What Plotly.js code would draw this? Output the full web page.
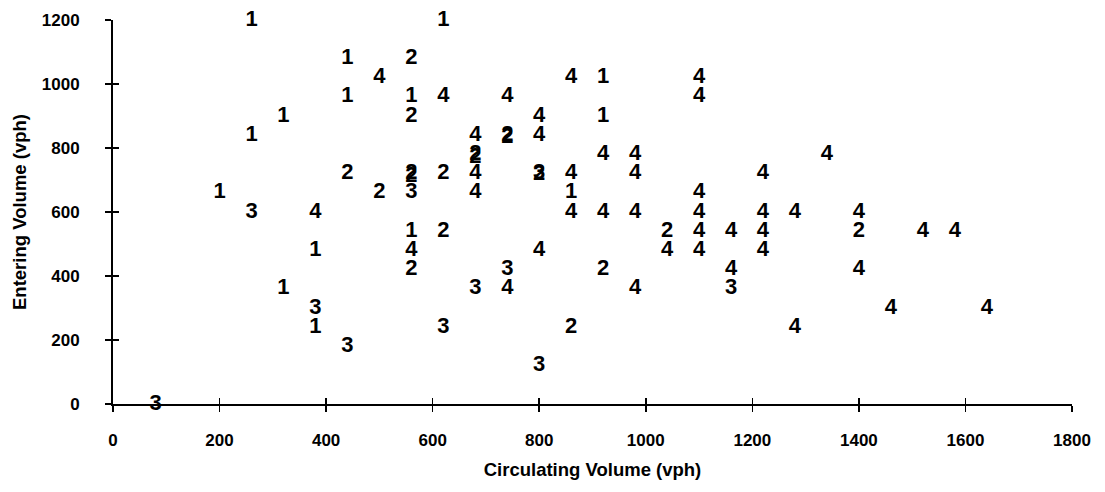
<!DOCTYPE html>
<html>
<head>
<meta charset="utf-8">
<script src="https://cdn.plot.ly/plotly-3.0.1.min.js"></script>
<style>html,body{margin:0;padding:0;background:#fff;}#chart{width:1105px;height:492px;}</style>
</head>
<body>
<div id="chart"></div>
<script>
// Category "1"
const cat1X = [260, 620, 440, 920, 440, 560, 320, 920, 260, 200, 860, 560, 380, 320, 380];
const cat1Y = [1200, 1200, 1080, 1020, 960, 960, 900, 900, 840, 660, 660, 540, 480, 360, 240];
// Category "2"
const cat2X = [560, 560, 440, 500, 740, 740, 680, 680, 560, 560, 620, 800, 620, 1040, 1400, 560, 920, 860];
const cat2Y = [1080, 900, 720, 660, 840, 832, 780, 770, 720, 712, 720, 716, 540, 540, 540, 420, 420, 240];
// Category "3"
const cat3X = [260, 380, 440, 80, 560, 800, 740, 680, 620, 800, 1160];
const cat3Y = [600, 300, 180, 0, 660, 720, 420, 360, 240, 120, 360];
// Category "4"
const cat4X = [500, 860, 1100, 620, 740, 1100, 800, 680, 800, 920, 980, 1340, 680, 860, 980, 1220, 680, 1100,
               380, 860, 920, 980, 1100, 1220, 1280, 1400, 1100, 1160, 1220, 1520, 1580, 560, 800, 1040, 1100,
               1220, 1160, 1400, 740, 980, 1460, 1640, 1280];
const cat4Y = [1020, 1020, 1020, 960, 960, 960, 900, 840, 840, 780, 780, 780, 720, 720, 720, 720, 660, 660,
               600, 600, 600, 600, 600, 600, 600, 600, 540, 540, 540, 540, 540, 480, 480, 480, 480,
               480, 420, 420, 360, 360, 300, 300, 240];
const categoryLabels = ["1", "2", "3", "4"];
const xTicks = [0, 200, 400, 600, 800, 1000, 1200, 1400, 1600, 1800];
const yTicks = [0, 200, 400, 600, 800, 1000, 1200];

const seriesX = [cat1X, cat2X, cat3X, cat4X];
const seriesY = [cat1Y, cat2Y, cat3Y, cat4Y];
const glyphFont = {family: "Liberation Sans, Arial, sans-serif", size: 22, color: "#000", weight: "bold"};

const traces = categoryLabels.map((lab, i) => ({
  type: "scatter", mode: "text",
  x: seriesX[i], y: seriesY[i],
  text: seriesX[i].map(() => lab),
  textposition: "middle center",
  textfont: glyphFont,
  cliponaxis: false,
  showlegend: false, hoverinfo: "x+y"
}));
// empty trace to carry the overlay axes (inner half of crossing ticks)
traces.push({type: "scatter", mode: "none", x: [], y: [], xaxis: "x2", yaxis: "y2", showlegend: false});

const tickFont = {family: "Liberation Sans, Arial, sans-serif", size: 17, color: "#000", weight: "bold"};
const titleFont = {family: "Liberation Sans, Arial, sans-serif", size: 18.5, color: "#000", weight: "bold"};

const layout = {
  width: 1105, height: 492,
  margin: {l: 113, r: 33, t: 20, b: 88},
  paper_bgcolor: "#fff", plot_bgcolor: "#fff",
  showlegend: false,
  xaxis: {
    range: [0, 1800], tickvals: xTicks, ticktext: xTicks.map(String),
    showgrid: false, zeroline: false,
    showline: true, linecolor: "#000", linewidth: 2,
    ticks: "outside", ticklen: 6, tickwidth: 1.5, tickcolor: "#000",
    ticklabelstandoff: 14,
    tickfont: tickFont,
    title: {text: "Circulating Volume (vph)", font: titleFont, standoff: 14}
  },
  yaxis: {
    range: [0, 1200], tickvals: yTicks, ticktext: yTicks.map(String),
    showgrid: false, zeroline: false,
    showline: true, linecolor: "#000", linewidth: 2,
    ticks: "outside", ticklen: 6, tickwidth: 1.5, tickcolor: "#000",
    ticklabelstandoff: 22,
    tickfont: tickFont,
    title: {text: "Entering Volume (vph)", font: titleFont, standoff: 10}
  },
  xaxis2: {
    overlaying: "x", matches: "x", range: [0, 1800], tickvals: xTicks,
    showticklabels: false, showgrid: false, zeroline: false, showline: false,
    ticks: "inside", ticklen: 6, tickwidth: 1.5, tickcolor: "#000", anchor: "y2"
  },
  yaxis2: {
    overlaying: "y", matches: "y", range: [0, 1200], tickvals: yTicks,
    showticklabels: false, showgrid: false, zeroline: false, showline: false,
    ticks: "inside", ticklen: 6, tickwidth: 1.5, tickcolor: "#000", anchor: "x2"
  }
};

Plotly.newPlot("chart", traces, layout, {displayModeBar: false, staticPlot: true});
</script>
</body>
</html>
